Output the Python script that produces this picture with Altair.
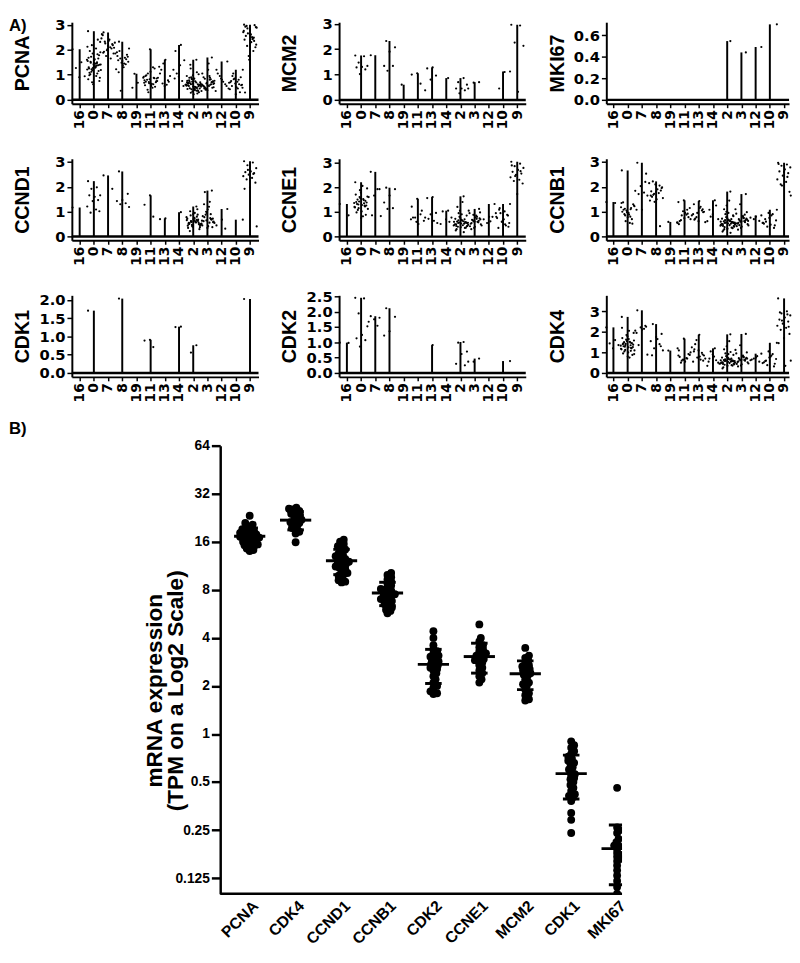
import math
import altair as alt
import pandas as pd

# ---------------- data: panel A (per gene, one list per cluster) ----------------
CLUSTERS = ["16", "0", "7", "8", "19", "11", "13", "14", "2", "3", "12", "10", "9"]

PCNA_A = [
    [2.02, 1.50, 1.27, 0.94, 0.90],
    [2.74, 1.45, 1.12, 2.31, 1.62, 0.98, 1.38, 1.85, 1.21, 2.05, 1.52, 0.75, 1.33, 1.68, 1.05, 2.18, 1.41, 1.28,
     1.95, 1.15, 0.62, 1.55, 1.36, 1.72, 0.88, 1.47, 1.25, 2.40, 1.18, 1.60, 1.31, 1.02, 1.78, 1.42, 0.82, 1.50,
     1.22, 1.90, 1.35, 1.08, 1.65, 1.27, 2.12, 0.95, 1.48, 1.40, 1.58, 1.30, 1.82, 0.70, 1.19, 1.44],
    [2.69, 2.22, 1.98, 2.45, 2.10, 2.32, 1.85, 2.15, 2.58, 2.05, 1.75, 2.28, 2.40, 1.92, 2.18, 2.02, 2.62, 1.65,
     2.25, 2.08, 2.35, 1.88],
    [2.32, 1.72, 1.55, 1.90, 1.42, 1.65, 2.05, 1.30, 1.58, 1.80, 1.48, 1.22, 1.68, 1.95, 1.52, 1.38, 1.75, 1.62,
     0.36, 1.85, 1.45, 1.10],
    [1.04, 0.88, 0.68, 0.48],
    [2.02, 0.78, 0.62, 1.05, 0.85, 0.55, 0.72, 1.25, 0.66, 0.92, 0.48, 0.80, 0.70, 1.12, 0.58, 0.88, 0.30, 0.75,
     0.64, 0.98, 0.52, 0.82, 0.68, 1.30, 0.40, 0.74, 0.60, 0.95, 0.86, 0.71],
    [1.60, 1.05, 0.72, 1.45, 0.88, 0.60, 1.20, 0.95, 0.55, 1.32, 0.78, 0.65],
    [2.19, 1.95, 1.58, 0.92, 1.20, 0.75, 1.05, 0.60, 1.38, 0.85, 0.55],
    [1.60, 0.62, 0.45, 0.85, 0.55, 0.38, 0.72, 0.95, 0.50, 0.66, 0.30, 0.80, 0.58, 1.10, 0.42, 0.70, 0.52, 0.88,
     0.35, 0.64, 0.76, 0.48, 1.25, 0.60, 0.40, 0.68, 0.25, 0.82, 0.56, 0.74, 0.46, 1.02, 0.53, 0.65, 0.36, 0.90,
     0.58, 0.44, 0.78, 0.62, 0.33, 0.70, 0.50, 1.40, 0.57, 0.22, 0.67, 0.47, 0.84, 0.61, 0.39, 0.73, 0.54, 0.98,
     0.43, 0.69, 0.28, 0.59],
    [1.69, 0.65, 0.52, 0.80, 0.45, 0.72, 0.58, 1.05, 0.62, 0.40, 0.76, 0.55, 0.90, 0.48, 0.68, 0.35, 0.60, 0.84,
     0.50, 1.20, 0.57, 0.70, 0.42, 0.64, 0.95, 0.53, 0.74, 0.38, 0.61, 0.82, 0.47, 0.66, 1.45, 0.56, 0.71, 0.44,
     0.59, 0.88, 0.51, 0.63],
    [1.53, 0.80, 1.20, 0.62, 0.95, 0.45, 0.72, 1.05, 0.55, 0.85, 0.35],
    [1.20, 0.72, 0.55, 0.90, 0.65, 0.42, 0.80, 1.05, 0.60, 0.50, 0.75, 0.30, 0.85, 0.68, 0.45, 0.95, 0.58, 0.22,
     0.70, 0.62, 0.82, 0.48],
    [3.00, 2.45, 2.85, 2.20, 2.60, 2.92, 2.35, 1.75, 2.70, 2.50, 2.95, 2.10, 2.80, 2.40, 1.95, 2.65, 2.88, 2.30,
     2.55, 2.98, 1.60, 2.75, 2.42, 2.15, 2.90, 2.62, 0.29, 2.48],
]

MCM2_A = [
    [],
    [1.75, 1.72, 1.47, 1.34, 1.30, 1.28, 1.20, 1.02],
    [1.76],
    [2.32, 2.07, 1.90, 1.34, 1.34, 1.15],
    [0.60],
    [1.05, 1.00, 0.64],
    [1.28, 1.24, 0.96, 0.80, 0.38],
    [0.86],
    [0.86, 0.70, 0.60, 0.45, 0.45, 0.38, 0.26],
    [0.70, 0.68, 0.45],
    [],
    [1.12, 1.10, 0.45],
    [2.96, 2.93, 2.26, 2.13, 0.32],
]

MKI67_A = [[], [], [], [], [], [], [], [], [0.545], [0.44], [0.49], [0.70], []]

CCND1_A = [
    [1.17],
    [2.23, 1.98, 1.92, 1.66, 1.60, 1.66, 1.47, 1.43, 1.21, 1.09, 0.96, 1.02],
    [2.46, 1.92],
    [2.62, 1.72, 1.47, 1.43, 1.34, 1.30, 1.19],
    [],
    [1.66, 1.28, 0.80],
    [0.73, 0.70],
    [0.98],
    [1.21, 0.62, 0.48, 0.75, 0.55, 0.88, 0.42, 0.66, 0.58, 1.02, 0.50, 0.70, 0.35, 0.80, 0.60, 0.45, 0.95, 0.53,
     0.68, 0.40, 0.72, 0.57, 0.85, 0.30, 0.64, 0.52, 1.10, 0.47, 0.78, 0.61, 0.22, 0.56, 0.90, 0.44, 0.67, 0.59,
     0.38, 0.73, 0.51, 0.63],
    [1.85, 0.65, 0.50, 1.40, 0.78, 0.58, 1.09, 0.45, 0.70, 0.88, 0.55, 1.20, 0.62, 0.38, 0.95, 0.52, 0.74, 1.79,
     0.60, 0.42, 0.82, 0.68, 1.00, 0.48, 0.56, 1.30, 0.72, 0.35, 0.64, 0.90],
    [1.11, 0.68, 0.45, 0.32],
    [0.68],
    [3.03, 2.98, 2.87, 2.75, 2.62, 2.59, 2.55, 2.49, 2.43, 2.36, 2.30, 2.17, 1.98, 1.92, 2.52, 2.68, 0.41],
]

CCNE1_A = [
    [1.32, 0.86],
    [2.20, 1.35, 1.15, 1.62, 1.28, 0.98, 1.45, 1.88, 1.20, 1.52, 1.08, 1.38, 0.75, 1.70, 1.25, 1.42, 1.12, 2.05,
     1.32, 0.88, 1.55, 1.18, 1.48, 1.30, 1.95, 1.02, 1.40, 1.22, 1.60, 1.36, 0.82, 1.50, 1.26, 1.78],
    [2.62, 1.92, 1.66, 1.60, 1.92, 0.86, 0.83],
    [1.98, 1.92, 1.66, 1.38, 1.15, 1.12],
    [],
    [1.53, 1.21, 0.90, 0.77, 0.64, 0.51, 0.77, 1.05, 0.60, 0.70],
    [1.60, 1.56, 0.96, 0.90, 0.77, 0.64, 0.72, 0.55],
    [1.05, 1.02, 0.77, 0.70, 0.51, 0.60],
    [1.63, 0.55, 0.42, 0.68, 0.50, 0.35, 0.80, 0.60, 0.46, 1.20, 0.58, 0.38, 0.72, 0.52, 0.95, 0.44, 0.65, 0.30,
     0.56, 1.05, 0.48, 0.62, 0.40, 0.85, 0.53, 0.25, 0.70, 0.57, 0.45, 1.40, 0.61, 0.36, 0.75, 0.50, 0.18, 0.66,
     0.54, 0.90, 0.43, 0.59],
    [1.12, 0.62, 0.48, 0.80, 0.55, 0.70, 0.40, 0.95, 0.58, 0.66, 0.45, 0.85, 0.52, 0.74, 0.35, 1.05, 0.60, 0.68,
     0.50, 0.78, 0.42, 0.64, 0.88, 0.56, 0.72, 0.30, 0.98, 0.61],
    [1.32, 0.80, 0.70, 0.80, 0.55, 0.95, 0.62],
    [1.32, 1.02, 1.09, 0.85, 0.62, 0.75, 0.45, 0.95, 0.55, 0.70, 0.35, 0.88, 0.60, 0.80, 0.50, 1.15, 0.40, 0.66],
    [3.03, 2.95, 2.85, 2.78, 2.70, 2.62, 2.55, 2.50, 2.40, 2.30, 2.25, 2.15, 1.72, 2.88, 2.65, 2.45],
]

CCNB1_A = [
    [1.39, 1.35],
    [2.66, 1.10, 0.85, 1.25, 0.95, 1.38, 0.70, 1.05, 1.18, 0.55, 0.90, 1.30, 0.78, 1.00, 1.15, 0.62, 1.22, 0.88,
     1.08, 0.52, 0.98, 1.35, 0.80, 1.12],
    [2.97, 2.53, 2.03, 1.84, 1.77, 1.71, 1.65, 1.08, 1.08, 2.20],
    [2.22, 1.95, 1.80, 1.65, 2.05, 1.72, 1.55, 1.90, 1.60, 1.85, 2.10, 1.45, 1.75, 1.68, 1.98, 1.50, 1.82, 0.42,
     1.40, 2.15],
    [0.59, 0.57],
    [1.46, 1.39, 1.08, 0.85, 0.70, 0.95, 0.62, 0.78, 1.02, 0.55, 0.88, 0.66, 1.15, 0.74, 0.50, 0.92],
    [1.43, 1.30, 1.10, 0.95, 0.85, 1.20, 0.72, 1.00, 0.62, 0.90, 1.05, 0.78, 0.58, 1.15, 0.68, 0.98],
    [1.46, 1.08, 0.70, 0.90, 0.62, 1.25, 0.80],
    [1.81, 0.55, 0.42, 0.68, 0.50, 0.36, 0.78, 0.60, 0.46, 1.10, 0.58, 0.32, 0.72, 0.52, 0.90, 0.40, 0.65, 0.25,
     0.56, 1.25, 0.48, 0.62, 0.38, 0.82, 0.53, 0.20, 0.70, 0.57, 0.44, 1.45, 0.61, 0.34, 0.75, 0.50, 0.15, 0.66,
     0.54, 0.95, 0.43, 0.59, 1.00, 0.47, 0.64, 0.30, 0.85],
    [1.71, 0.60, 0.48, 0.75, 0.55, 0.68, 0.40, 0.92, 0.58, 0.65, 0.45, 0.82, 0.52, 0.72, 0.35, 1.10, 0.62, 0.70,
     0.50, 0.80, 0.42, 0.66, 1.30, 0.56, 0.74, 0.28, 0.98, 0.61, 0.53, 0.88, 0.46, 0.63],
    [0.85, 0.80, 0.76, 0.63, 0.70, 0.55],
    [1.08, 0.85, 0.60, 0.45, 0.75, 0.52, 0.90, 0.40, 0.65, 0.48, 0.70, 0.35, 0.95, 0.55],
    [2.97, 2.90, 2.85, 2.78, 2.70, 2.62, 2.55, 2.45, 2.30, 2.20, 2.10, 1.80, 2.60, 2.92, 2.40, 2.05, 1.65],
]

CDK1_A = [[], [1.71], [], [2.04], [], [0.91, 0.89, 0.71], [], [1.27, 1.26], [0.76, 0.56], [], [], [], [2.03]]

CDK2_A = [
    [0.99, 0.98],
    [2.45, 2.43, 1.94, 1.52, 1.24, 1.13, 1.07, 0.86],
    [1.85, 1.80, 1.75, 1.67, 1.54],
    [2.11, 1.83, 1.36, 1.22],
    [], [],
    [0.91],
    [],
    [1.01, 0.99, 0.70, 0.62, 0.30, 0.25],
    [0.47, 0.37, 0.37],
    [],
    [0.39],
    [],
]

CDK4_A = [
    [2.22, 1.60, 1.44, 1.36, 1.20],
    [2.73, 1.35, 1.12, 1.58, 1.25, 0.95, 1.45, 1.85, 1.18, 1.52, 1.05, 1.38, 0.80, 1.70, 1.22, 1.42, 1.10, 2.05,
     1.30, 0.88, 1.55, 1.15, 1.48, 1.28, 1.95, 1.00, 1.40, 1.20, 1.62, 1.33, 0.75, 1.50, 1.26, 1.78, 2.20, 1.08,
     1.36, 0.92, 1.65, 1.44],
    [3.05, 2.25, 2.22, 2.06, 2.15, 1.36, 0.89, 2.10, 1.95, 2.30],
    [2.38, 1.90, 1.75, 1.55, 1.40, 1.20, 1.10, 1.65, 0.86, 1.30],
    [1.09],
    [1.67, 0.85, 0.70, 0.60, 1.00, 0.55, 0.78, 0.92, 0.65, 1.20, 0.72, 0.50, 0.88, 0.62, 1.10],
    [1.86, 1.05, 0.90, 0.75, 1.25, 0.65, 1.40, 0.85, 1.10, 0.55, 0.98, 1.60, 0.70, 0.80, 1.15, 0.60],
    [1.20, 0.70, 0.50, 0.90, 0.35, 0.62, 1.05, 0.45, 0.80, 0.55],
    [1.88, 0.58, 0.45, 0.72, 0.52, 0.38, 0.82, 0.62, 0.48, 1.15, 0.60, 0.35, 0.75, 0.55, 0.95, 0.42, 0.68, 0.28,
     0.57, 1.30, 0.50, 0.65, 0.40, 0.88, 0.54, 0.22, 0.70, 0.59, 0.46, 1.55, 0.63, 0.36, 0.78, 0.51, 1.02, 0.66,
     0.56, 0.92, 0.44, 0.61],
    [1.90, 0.62, 0.50, 0.78, 0.56, 0.70, 0.42, 0.95, 0.60, 0.66, 0.46, 0.85, 0.53, 0.74, 0.36, 1.12, 0.63, 0.72,
     0.52, 0.82, 0.44, 0.68, 1.35, 0.58, 0.76, 0.32, 1.00, 0.64],
    [0.94, 0.75, 0.62, 0.55, 0.70, 0.48, 0.82, 0.65],
    [1.47, 0.85, 0.60, 0.45, 0.75, 0.52, 0.92, 0.38, 0.68, 0.80, 0.58, 0.32, 1.05],
    [3.63, 3.00, 2.90, 2.80, 2.70, 2.60, 2.50, 2.40, 2.30, 2.20, 2.10, 1.90, 1.70, 1.45, 2.85, 2.55, 0.60, 0.35,
     2.95, 2.25],
]

# ---------------- data: panel B ----------------
GENES_B = ["PCNA", "CDK4", "CCND1", "CCNB1", "CDK2", "CCNE1", "MCM2", "CDK1", "MKI67"]
B_PCNA = [23.3, 21.0, 20.5, 20.0, 19.5, 19.2, 18.8, 18.5, 18.2, 18.0, 17.8, 17.5, 17.2, 17.0, 16.8, 16.5, 16.3,
          16.0, 15.8, 15.6, 15.4, 15.2, 15.0, 14.8, 14.5, 14.2, 14.0, 18.6, 17.6, 16.9]
B_CDK4 = [26.2, 25.8, 25.0, 24.5, 24.0, 23.5, 23.0, 22.5, 22.0, 21.5, 21.2, 21.0, 20.5, 20.0, 19.5, 19.0, 18.5,
          18.0, 15.9, 25.5]
B_CCND1 = [16.5, 16.0, 15.5, 15.0, 14.8, 14.3, 14.0, 13.5, 13.0, 12.8, 12.5, 12.2, 12.0, 11.8, 11.5, 11.2, 11.0,
           10.8, 10.5, 10.2, 10.0, 9.8, 9.5, 9.2, 9.0, 8.9, 13.2, 11.6]
B_CCNB1 = [10.2, 9.9, 9.6, 9.3, 9.0, 8.8, 8.5, 8.3, 8.1, 7.9, 7.7, 7.5, 7.4, 7.2, 7.0, 6.9, 6.7, 6.5, 6.3, 6.2,
           6.0, 5.9, 5.7, 8.0, 7.3, 6.8]
B_CDK2 = [4.4, 4.0, 3.6, 3.4, 3.3, 3.2, 3.1, 3.0, 2.9, 2.85, 2.8, 2.75, 2.7, 2.65, 2.6, 2.5, 2.4, 2.3, 2.2, 2.1,
          2.0, 1.95, 1.85, 1.8, 1.78, 2.55, 3.05]
B_CCNE1 = [4.86, 4.0, 3.8, 3.6, 3.5, 3.4, 3.3, 3.2, 3.1, 3.0, 2.95, 2.9, 2.8, 2.7, 2.6, 2.5, 2.4, 2.3, 2.2, 2.1,
           3.15, 2.85]
B_MCM2 = [3.46, 3.1, 3.0, 2.9, 2.8, 2.7, 2.65, 2.6, 2.55, 2.5, 2.45, 2.4, 2.35, 2.3, 2.2, 2.1, 2.05, 2.0, 1.9, 1.8,
          1.75, 1.62, 1.65]
B_CDK1 = [0.9, 0.85, 0.82, 0.78, 0.75, 0.72, 0.7, 0.68, 0.65, 0.62, 0.6, 0.58, 0.56, 0.55, 0.53, 0.5, 0.48, 0.46,
          0.44, 0.42, 0.41, 0.4, 0.38, 0.32, 0.29, 0.24, 0.66, 0.52]
B_MKI67 = [0.46, 0.26, 0.25, 0.24, 0.22, 0.21, 0.2, 0.19, 0.18, 0.175, 0.17, 0.165, 0.16, 0.15, 0.14, 0.13, 0.12,
           0.11, 0.1, 0.2]
B_VALUES = [B_PCNA, B_CDK4, B_CCND1, B_CCNB1, B_CDK2, B_CCNE1, B_MCM2, B_CDK1, B_MKI67]
B_TICKS = [0.125, 0.25, 0.5, 1, 2, 4, 8, 16, 32, 64]

# ---------------- styling ----------------
FONT = "Liberation Sans"
TICKFONT = "DejaVu Sans"
H_A = 83
LEFT_A = 64
TOP_A = 12
TOP_ROW1 = 4
BOTTOM_A = 36


def jitter(k):
    return ((k * 0.6180339887) % 1.0 - 0.5) * 1.0


def bound_pt(x, y):
    return alt.Chart(pd.DataFrame({"a": [0]})).mark_point(opacity=0, size=1).encode(
        x=alt.value(x), y=alt.value(y))


def panel_a(gene, values, ydom, ticks, fmt, width, xdom, right, top=TOP_A, label=None):
    rows = []
    for ci, vals in enumerate(values):
        for k, v in enumerate(vals):
            rows.append({"ci": ci, "v": v, "xj": ci + jitter(k + 5 * ci)})
    df = pd.DataFrame(rows)
    xscale = alt.Scale(domain=xdom, nice=False, zero=False)
    yscale = alt.Scale(domain=ydom, nice=False, zero=False)
    label_expr = "[" + ",".join("'%s'" % c for c in CLUSTERS) + "][datum.value]"
    xaxis = alt.Axis(values=list(range(13)), labelExpr=label_expr, labelAngle=270, title=None,
                     labelFont=TICKFONT, labelFontSize=14, labelFontWeight="bold", labelColor="black",
                     labelFlush=False, labelOverlap=False, tickSize=4, tickWidth=1.5, tickColor="black",
                     domainWidth=2, domainColor="black", labelPadding=2, grid=False)
    yaxis = alt.Axis(values=ticks, format=fmt, title=gene, titleX=-44, titleY=H_A / 2, titleAngle=270,
                     titleAlign="center", titleBaseline="alphabetic", titleFont=FONT, titleFontSize=20,
                     titleFontWeight="bold", titleColor="black",
                     labelFont=TICKFONT, labelFontSize=15, labelFontWeight="bold", labelColor="black",
                     labelFlush=False, labelOverlap=False, tickSize=5, tickWidth=1.5, tickColor="black",
                     domainWidth=2, domainColor="black", labelPadding=2, grid=False)
    X = lambda f: alt.X(f, type="quantitative", scale=xscale, axis=xaxis)
    Y = lambda f: alt.Y(f, type="quantitative", scale=yscale, axis=yaxis)

    base = alt.Chart(df)
    zero = alt.Chart(pd.DataFrame({"z": [0.0]})).mark_rule(color="black", strokeWidth=2.5).encode(
        x=alt.value(0), x2=alt.value(width), y=Y("z"))
    lines = base.transform_aggregate(vmax="max(v)", groupby=["ci"]).transform_calculate(
        z="0").mark_rule(color="black", strokeWidth=2).encode(x=X("ci"), y=Y("vmax"), y2="z:Q")
    dots = base.mark_circle(color="black", size=5, opacity=1).encode(x=X("xj"), y=Y("v"))
    layers = [zero, lines, dots, bound_pt(-LEFT_A, -top), bound_pt(width + right, H_A + BOTTOM_A)]
    if label:
        layers.append(alt.Chart(pd.DataFrame({"t": [label]})).mark_text(
            align="left", baseline="top", font=FONT, fontSize=17, fontWeight="bold", color="black").encode(
            x=alt.value(-LEFT_A), y=alt.value(-top), text="t:N"))
    return alt.layer(*layers).properties(width=width, height=H_A)


XD12 = [-0.55, 12.6]
XD3 = [-0.5, 12.35]
row1 = alt.hconcat(
    panel_a("PCNA", PCNA_A, [-0.16, 3.1], [0, 1, 2, 3], "d", 190, XD12, 10, top=TOP_ROW1, label="A)"),
    panel_a("MCM2", MCM2_A, [-0.15, 3.06], [0, 1, 2, 3], "d", 190, XD12, 10, top=TOP_ROW1),
    panel_a("MKI67", MKI67_A, [-0.036, 0.72], [0, 0.2, 0.4, 0.6], ".1f", 186, XD3, 0, top=TOP_ROW1),
    spacing=6)
row2 = alt.hconcat(
    panel_a("CCND1", CCND1_A, [-0.15, 3.13], [0, 1, 2, 3], "d", 190, XD12, 10),
    panel_a("CCNE1", CCNE1_A, [-0.15, 3.15], [0, 1, 2, 3], "d", 190, XD12, 10),
    panel_a("CCNB1", CCNB1_A, [-0.15, 3.13], [0, 1, 2, 3], "d", 186, XD3, 0),
    spacing=6)
row3 = alt.hconcat(
    panel_a("CDK1", CDK1_A, [-0.107, 2.13], [0, 0.5, 1, 1.5, 2], ".1f", 190, XD12, 10),
    panel_a("CDK2", CDK2_A, [-0.125, 2.53], [0, 0.5, 1, 1.5, 2, 2.5], ".1f", 190, XD12, 10),
    panel_a("CDK4", CDK4_A, [-0.19, 3.78], [0, 1, 2, 3], "d", 186, XD3, 0),
    spacing=6)


# ---------------- panel B ----------------
# plot rectangle starts at the same x as panel A's first column; the y axis is shifted right
AX_SHIFT = 151
STEP_B = 46.75
X_LO = -0.642
X_HI = 8.107
W_B = 560
H_B = 456


def swarm(vals, dmin=3.8, px_per_doubling=48.9):
    ys = [math.log2(v) * px_per_doubling for v in vals]
    order = sorted(range(len(vals)), key=lambda i: ys[i])
    cands = [0.0]
    for k in range(1, 80):
        cands += [k * 0.75, -k * 0.75]
    placed = []
    offs = [0.0] * len(vals)
    for i in order:
        y = ys[i]
        chosen = 0.0
        for c in cands:
            if all((c - px) ** 2 + (y - py) ** 2 >= dmin ** 2 for px, py in placed):
                chosen = c
                break
        placed.append((chosen, y))
        offs[i] = chosen / STEP_B
    return offs


rows_b = []
for gi, vals in enumerate(B_VALUES):
    for v, o in zip(vals, swarm(vals)):
        rows_b.append({"gi": gi, "v": v, "xs": gi + o})
dfb = pd.DataFrame(rows_b)

xsb = alt.Scale(domain=[X_LO - AX_SHIFT / STEP_B, X_HI], nice=False, zero=False)
ysb = alt.Scale(type="log", base=2, domain=[0.1, 64], nice=False)
gexpr = "[" + ",".join("'%s'" % g for g in GENES_B) + "][datum.value]"
xaxis_b = alt.Axis(values=list(range(9)), labelExpr=gexpr, labelAngle=-45, title=None, ticks=False,
                   domain=False, labelFont=FONT, labelFontSize=16, labelFontWeight="bold", labelColor="black",
                   labelFlush=False, labelOverlap=False, labelPadding=4, grid=False)
yaxis_b = alt.Axis(values=B_TICKS, format="~g", title=["mRNA expression", "(TPM on a Log2 Scale)"],
                   offset=-AX_SHIFT,
                   titleX=-60, titleY=249, titleAngle=270, titleAlign="center", titleBaseline="alphabetic",
                   titleFont=FONT, titleFontSize=23, titleFontWeight="bold", titleColor="black",
                   titleLineHeight=22,
                   labelFont=FONT, labelFontSize=14, labelFontWeight="bold", labelColor="black",
                   labelFlush=False, labelOverlap=False, tickSize=9, tickWidth=2.5, tickColor="black",
                   domainWidth=2.5, domainColor="black", labelPadding=2, grid=False)
XB = lambda f: alt.X(f, type="quantitative", scale=xsb, axis=xaxis_b)
YB = lambda f: alt.Y(f, type="quantitative", scale=ysb, axis=yaxis_b)

base_b = alt.Chart(dfb)
pts_b = base_b.mark_circle(color="black", size=64, opacity=1, clip=True).encode(x=XB("xs"), y=YB("v"))
stats = base_b.transform_aggregate(m="mean(v)", s="stdev(v)", groupby=["gi"]).transform_calculate(
    lo="datum.m - datum.s", hi="datum.m + datum.s",
    ml="datum.gi - 0.34", mr="datum.gi + 0.34",
    cl="datum.gi - 0.18", cr="datum.gi + 0.18")
mean_line = stats.mark_rule(color="black", strokeWidth=3, clip=True).encode(x=XB("ml"), x2="mr:Q", y=YB("m"))
sd_line = stats.mark_rule(color="black", strokeWidth=3, clip=True).encode(x=XB("gi"), y=YB("lo"), y2="hi:Q")
cap_hi = stats.mark_rule(color="black", strokeWidth=3, clip=True).encode(x=XB("cl"), x2="cr:Q", y=YB("hi"))
cap_lo = stats.mark_rule(color="black", strokeWidth=3, clip=True).encode(x=XB("cl"), x2="cr:Q", y=YB("lo"))
xline = alt.Chart(pd.DataFrame({"x1": [X_LO], "x2": [X_HI], "yb": [0.1]})).mark_rule(
    color="black", strokeWidth=2.5).encode(x=XB("x1"), x2="x2:Q", y=YB("yb"))
label_b = alt.Chart(pd.DataFrame({"t": ["B)"]})).mark_text(
    align="left", baseline="top", font=FONT, fontSize=17, fontWeight="bold", color="black").encode(
    x=alt.value(-LEFT_A), y=alt.value(-25), text="t:N")

panel_b = alt.layer(pts_b, mean_line, sd_line, cap_hi, cap_lo, xline, label_b,
                    bound_pt(-LEFT_A, -26)).properties(width=W_B, height=H_B)

chart = alt.vconcat(row1, row2, row3, panel_b, spacing=6).properties(padding=0).configure_view(
    stroke=None).configure_axis(grid=False)

chart.save("out.html", embed_options={"renderer": "svg", "actions": False})
